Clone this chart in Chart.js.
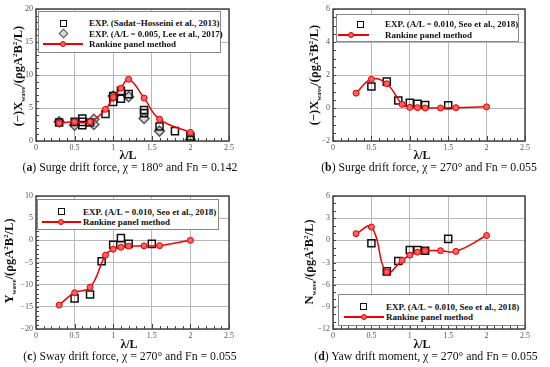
<!DOCTYPE html>
<html>
<head>
<meta charset="utf-8">
<script src="https://cdn.jsdelivr.net/npm/chart.js@4.4.1/dist/chart.umd.min.js"></script>
<style>
  body { margin: 0; background: #fff; }
  #fig { position: relative; width: 550px; height: 367px; font-family: "Liberation Serif", "DejaVu Serif", serif; color: #111; overflow: hidden; }
  canvas { position: absolute; }
  .ytitle { position: absolute; transform: translate(-50%, -50%) rotate(-90deg); white-space: nowrap; font-weight: bold; font-size: 12.5px; }
  .ytitle sub, .ytitle sup { font-size: 7px; }
  .xtitle { position: absolute; transform: translate(-50%, -50%); font-weight: bold; font-size: 12px; white-space: nowrap; }
  .cap { position: absolute; transform: translate(-50%, -50%); font-size: 11.8px; white-space: nowrap; }
  .legbox { position: absolute; border: 1px solid #888; background: #fff; box-sizing: border-box; }
  .legtext { position: absolute; transform: translateY(-50%); font-weight: bold; font-size: 9px; white-space: nowrap; }
  .mk { position: absolute; box-sizing: border-box; }
</style>
</head>
<body>
<div id="fig">
  <canvas id="chartA" width="243" height="157" style="left:0px;top:0px"></canvas>
  <canvas id="chartB" width="242" height="157" style="left:297px;top:0px"></canvas>
  <canvas id="chartC" width="243" height="159" style="left:0px;top:186px"></canvas>
  <canvas id="chartD" width="242" height="159" style="left:297px;top:186px"></canvas>

  <div class="ytitle" style="left:19px;top:76px">(&minus;)X<sub>wave</sub>/(&rho;gA<sup>2</sup>B<sup>2</sup>/L)</div>
  <div class="ytitle" style="left:315px;top:75px">(&minus;)X<sub>wave</sub>/(&rho;gA<sup>2</sup>B<sup>2</sup>/L)</div>
  <div class="ytitle" style="left:10px;top:261px">Y<sub>wave</sub>/(&rho;gA<sup>2</sup>B<sup>2</sup>/L)</div>
  <div class="ytitle" style="left:310px;top:262px">N<sub>wave</sub>/(&rho;gA<sup>2</sup>B<sup>2</sup>/L)</div>

  <div class="xtitle" style="left:128px;top:155px">&lambda;/L</div>
  <div class="xtitle" style="left:422px;top:155px">&lambda;/L</div>
  <div class="xtitle" style="left:129px;top:344px">&lambda;/L</div>
  <div class="xtitle" style="left:422px;top:344px">&lambda;/L</div>

  <div class="cap" style="left:130px;top:167px">(<b>a</b>) Surge drift force, &chi; = 180&deg; and Fn = 0.142</div>
  <div class="cap" style="left:429px;top:167px">(<b>b</b>) Surge drift force, &chi; = 270&deg; and Fn = 0.055</div>
  <div class="cap" style="left:130px;top:356px">(<b>c</b>) Sway drift force, &chi; = 270&deg; and Fn = 0.055</div>
  <div class="cap" style="left:426px;top:356px">(<b>d</b>) Yaw drift moment, &chi; = 270&deg; and Fn = 0.055</div>
</div>

<script>
// wavelength ratios
const lambdaRankine = [0.3, 0.5, 0.7, 0.9, 1.0, 1.1, 1.2, 1.4, 1.6, 2.0];
const lambdaSeo = [0.5, 0.7, 0.85, 1.0, 1.1, 1.2, 1.5];

// (a) surge, head seas
const surgeHeadRankine = [2.7, 2.9, 2.9, 4.8, 6.6, 8.0, 9.35, 6.5, 3.3, 1.3];
const sadatX = [0.3, 0.5, 0.6, 0.6, 0.6, 0.7, 0.9, 1.0, 1.0, 1.1, 1.1, 1.2, 1.4, 1.4, 1.6, 1.8, 2.0, 2.0];
const sadatY = [2.8, 2.9, 3.4, 2.9, 2.4, 2.8, 4.1, 6.8, 5.9, 7.6, 6.4, 7.1, 4.7, 4.2, 2.2, 1.5, 0.7, 0.2];
const leeX = [0.3, 0.5, 0.75, 0.75, 1.0, 1.2, 1.4, 1.6, 2.0];
const leeY = [2.9, 2.4, 3.3, 2.5, 6.8, 6.7, 3.4, 1.5, 0.2];

// (b) surge, beam seas
const surgeBeamRankine = [0.9, 1.74, 1.47, 0.22, 0.04, 0.02, 0.0, 0.0, 0.02, 0.07];
const surgeBeamSeo = [1.3, 1.6, 0.45, 0.32, 0.25, 0.18, 0.17];

// (c) sway
const swayRankine = [-14.6, -11.8, -10.6, -3.35, -2.0, -1.55, -1.3, -1.25, -1.2, 0.0];
const swaySeo = [-13.1, -12.2, -4.7, -1.0, 0.5, -0.8, -0.8];

// (d) yaw
const yawRankine = [0.9, 1.8, -4.3, -2.7, -2.0, -1.6, -1.4, -1.4, -1.5, 0.65];
const yawSeo = [-0.4, -4.2, -2.8, -1.3, -1.3, -1.4, 0.2];

const xTicks = [0, 0.5, 1, 1.5, 2, 2.5];

const pts = (xs, ys) => xs.map((x, i) => ({ x: x, y: ys[i] }));
const fmt = v => (v < 0 ? '\u2212' : '') + Math.abs(v);

// frame + minor ticks
const framePlugin = {
  id: 'frame',
  beforeDatasetsDraw(chart, args, opts) {
    const { ctx, chartArea: a, scales: { x, y } } = chart;
    ctx.save();
    ctx.strokeStyle = '#444';
    ctx.lineWidth = 1;
    ctx.beginPath();
    const nx = Math.round((x.max - x.min) / opts.xMinor);
    for (let i = 0; i <= nx; i++) {
      const px = Math.round(x.getPixelForValue(x.min + i * opts.xMinor)) + 0.5;
      const len = (i % 5 === 0) ? 5 : 3;
      ctx.moveTo(px, a.bottom); ctx.lineTo(px, a.bottom - len);
    }
    const ny = Math.round((y.max - y.min) / opts.yMinor);
    for (let i = 0; i <= ny; i++) {
      const py = Math.round(y.getPixelForValue(y.min + i * opts.yMinor)) + 0.5;
      ctx.moveTo(a.left, py); ctx.lineTo(a.left + 3, py);
    }
    ctx.stroke();
    ctx.lineWidth = 1.5;
    ctx.strokeRect(a.left, a.top, a.right - a.left, a.bottom - a.top);
    ctx.restore();
  }
};

function rankineSet(data) {
  return {
    label: 'Rankine panel method',
    data: data,
    showLine: true,
    tension: 0.45,
    borderColor: '#f00000',
    borderWidth: 1.5,
    pointRadius: 3,
    pointBorderWidth: 1,
    pointBorderColor: '#e00000',
    pointBackgroundColor: '#ff6060'
  };
}

function squareSet(label, data) {
  return {
    label: label,
    data: data,
    pointStyle: 'rect',
    pointRadius: 5,
    pointBorderWidth: 1.5,
    pointBorderColor: '#111',
    pointBackgroundColor: 'rgba(255,255,255,0)'
  };
}

function makeChart(id, datasets, yMin, yMax, yStep, yMinor, padTop) {
  return new Chart(document.getElementById(id), {
    type: 'scatter',
    data: { datasets: datasets },
    options: {
      responsive: false,
      animation: false,
      layout: { padding: { left: 0, right: 14, top: padTop, bottom: 4 } },
      plugins: { legend: { display: false }, tooltip: { enabled: false }, frame: { xMinor: 0.1, yMinor: yMinor } },
      scales: {
        x: {
          type: 'linear', min: 0, max: 2.5,
          afterBuildTicks: s => { s.ticks = xTicks.map(v => ({ value: v })); },
          afterFit: s => { s.height = 12; },
          ticks: { font: { family: 'Liberation Serif', size: 8 }, color: '#555', padding: 2, maxRotation: 0, callback: fmt },
          grid: { color: '#b8b8b8', lineWidth: 1, drawTicks: false },
          border: { display: false }
        },
        y: {
          type: 'linear', min: yMin, max: yMax,
          ticks: { stepSize: yStep, font: { family: 'Liberation Serif', size: 8 }, color: '#555', padding: 3, callback: fmt },
          afterFit: s => { s.width = 36; },
          grid: { color: '#b8b8b8', lineWidth: 1, drawTicks: false },
          border: { display: false }
        }
      }
    },
    plugins: [framePlugin]
  });
}

makeChart('chartA', [
  rankineSet(pts(lambdaRankine, surgeHeadRankine)),
  squareSet('EXP. (Sadat\u2212Hosseini et al., 2013)', pts(sadatX, sadatY)),
  {
    label: 'EXP. (A/L = 0.005, Lee et al., 2017)',
    data: pts(leeX, leeY),
    pointStyle: 'rectRot',
    pointRadius: 5,
    pointBorderWidth: 1.5,
    pointBorderColor: '#555',
    pointBackgroundColor: 'rgba(190,190,190,0.6)'
  }
], 0, 20, 5, 1, 9);

makeChart('chartB', [
  rankineSet(pts(lambdaRankine, surgeBeamRankine)),
  squareSet('EXP. (A/L = 0.010, Seo et al., 2018)', pts(lambdaSeo, surgeBeamSeo))
], -2, 6, 2, 0.5, 9);

makeChart('chartC', [
  rankineSet(pts(lambdaRankine, swayRankine)),
  squareSet('EXP. (A/L = 0.010, Seo et al., 2018)', pts(lambdaSeo, swaySeo))
], -20, 10, 5, 1, 10);

makeChart('chartD', [
  rankineSet(pts(lambdaRankine, yawRankine)),
  squareSet('EXP. (A/L = 0.010, Seo et al., 2018)', pts(lambdaSeo, yawSeo))
], -12, 6, 3, 1, 10);

// legends (HTML overlays)
const fig = document.getElementById('fig');
function el(cls, style, html) {
  const d = document.createElement('div');
  d.className = cls;
  d.style.cssText = style;
  if (html) d.innerHTML = html;
  fig.appendChild(d);
  return d;
}
function legendBox(l, t, w, h) { el('legbox', `left:${l}px;top:${t}px;width:${w}px;height:${h}px`); }
function legSquare(cx, cy, text, tx) {
  el('mk', `left:${cx - 3.5}px;top:${cy - 3.5}px;width:7px;height:7px;border:1.5px solid #111`);
  el('legtext', `left:${tx}px;top:${cy}px`, text);
}
function legDiamond(cx, cy, text, tx) {
  el('mk', `left:${cx - 3.5}px;top:${cy - 3.5}px;width:7px;height:7px;border:1.5px solid #555;background:rgba(190,190,190,0.6);transform:rotate(45deg)`);
  el('legtext', `left:${tx}px;top:${cy}px`, text);
}
function legLine(x1, x2, cx, cy, text, tx) {
  el('mk', `left:${x1}px;top:${cy - 0.75}px;width:${x2 - x1}px;height:1.5px;background:#f00000`);
  el('mk', `left:${cx - 3}px;top:${cy - 3}px;width:6px;height:6px;border:1px solid #e00000;background:#ff6060;border-radius:50%`);
  el('legtext', `left:${tx}px;top:${cy}px`, text);
}

legendBox(38, 11, 183, 42);
legSquare(63, 23, 'EXP. (Sadat\u2212Hosseini et al., 2013)', 89);
legDiamond(63, 33.5, 'EXP. (A/L = 0.005, Lee et al., 2017)', 89);
legLine(43, 83, 63, 44, 'Rankine panel method', 89);

legendBox(336, 14, 183, 28);
legSquare(360, 24, 'EXP. (A/L = 0.010, Seo et al., 2018)', 385);
legLine(338, 369, 351, 35, 'Rankine panel method', 385);

legendBox(37, 199, 182, 31);
legSquare(61, 211.5, 'EXP. (A/L = 0.010, Seo et al., 2018)', 83);
legLine(42, 81, 61, 222, 'Rankine panel method', 83);

legendBox(338, 294, 187, 32);
legSquare(363, 306.5, 'EXP. (A/L = 0.010, Seo et al., 2018)', 386);
legLine(344, 384, 364, 317, 'Rankine panel method', 386);
</script>
</body>
</html>
